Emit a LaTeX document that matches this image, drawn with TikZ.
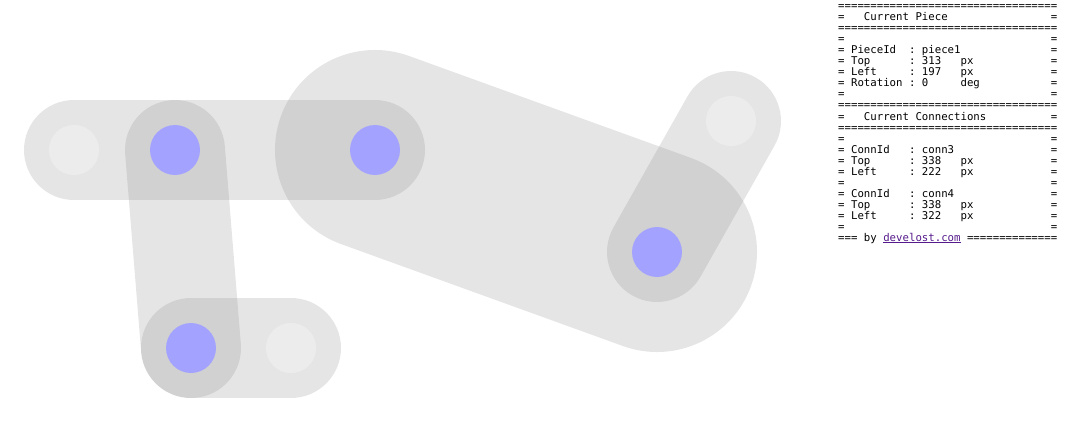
\documentclass[tikz,border=0pt]{standalone}
\usepackage{fontspec}
\setmonofont{DejaVu Sans Mono}
\definecolor{dotblue}{HTML}{A3A3FF}
\definecolor{piecegray}{HTML}{8E8E8E}
\definecolor{linkpurple}{HTML}{551A8B}
\begin{document}
\begin{tikzpicture}[x=1pt,y=-1pt,
  piece/.style={line width=#1, line cap=round, draw=piecegray, draw opacity=0.23},
  bluedot/.style={circle, fill=dotblue, minimum size=50pt, inner sep=0pt},
  freedot/.style={circle, fill=white, fill opacity=0.3, minimum size=50pt, inner sep=0pt},
  infoline/.style={anchor=base west, inner sep=0pt, font=\ttfamily\fontsize{10.7}{11}\selectfont}
]
\useasboundingbox (0,0) rectangle (1066,428);
% connector positions
\coordinate (a) at (74,150);
\coordinate (b) at (175,150);
\coordinate (c) at (375,150);
\coordinate (d) at (191,348);
\coordinate (e) at (291,348);
\coordinate (f) at (657,252);
\coordinate (g) at (731,121);
% pieces
\draw[piece=100pt] (a) -- (c);
\draw[piece=100pt] (b) -- (d);
\draw[piece=100pt] (d) -- (e);
\draw[piece=200pt] (c) -- (f);
\draw[piece=100pt] (f) -- (g);
% connectors
\node[freedot] (na) at (a) {};
\node[freedot] (ne) at (e) {};
\node[freedot] (ng) at (g) {};
\node[bluedot] (nb) at (b) {};
\node[bluedot] (nc) at (c) {};
\node[bluedot] (nd) at (d) {};
\node[bluedot] (nf) at (f) {};
% info panel
\node[infoline] (l1) at (838,10) {==================================};
\node[infoline] (l2) at (838,21) {=~~~Current~Piece~~~~~~~~~~~~~~~~=};
\node[infoline] (l3) at (838,32) {==================================};
\node[infoline] (l4) at (838,43) {=~~~~~~~~~~~~~~~~~~~~~~~~~~~~~~~~=};
\node[infoline] (l5) at (838,54) {=~PieceId~~:~piece1~~~~~~~~~~~~~~=};
\node[infoline] (l6) at (838,65) {=~Top~~~~~~:~313~~~px~~~~~~~~~~~~=};
\node[infoline] (l7) at (838,76) {=~Left~~~~~:~197~~~px~~~~~~~~~~~~=};
\node[infoline] (l8) at (838,87) {=~Rotation~:~0~~~~~deg~~~~~~~~~~~=};
\node[infoline] (l9) at (838,98) {=~~~~~~~~~~~~~~~~~~~~~~~~~~~~~~~~=};
\node[infoline] (l10) at (838,109) {==================================};
\node[infoline] (l11) at (838,120) {=~~~Current~Connections~~~~~~~~~~=};
\node[infoline] (l12) at (838,131) {==================================};
\node[infoline] (l13) at (838,142) {=~~~~~~~~~~~~~~~~~~~~~~~~~~~~~~~~=};
\node[infoline] (l14) at (838,153) {=~ConnId~~~:~conn3~~~~~~~~~~~~~~~=};
\node[infoline] (l15) at (838,164) {=~Top~~~~~~:~338~~~px~~~~~~~~~~~~=};
\node[infoline] (l16) at (838,175) {=~Left~~~~~:~222~~~px~~~~~~~~~~~~=};
\node[infoline] (l17) at (838,186) {=~~~~~~~~~~~~~~~~~~~~~~~~~~~~~~~~=};
\node[infoline] (l18) at (838,197) {=~ConnId~~~:~conn4~~~~~~~~~~~~~~~=};
\node[infoline] (l19) at (838,208) {=~Top~~~~~~:~338~~~px~~~~~~~~~~~~=};
\node[infoline] (l20) at (838,219) {=~Left~~~~~:~322~~~px~~~~~~~~~~~~=};
\node[infoline] (l21) at (838,230) {=~~~~~~~~~~~~~~~~~~~~~~~~~~~~~~~~=};
\node[infoline] (l22) at (838,241) {===~by~\textcolor{linkpurple}{\underline{develost.com}}~==============};
\end{tikzpicture}
\end{document}
